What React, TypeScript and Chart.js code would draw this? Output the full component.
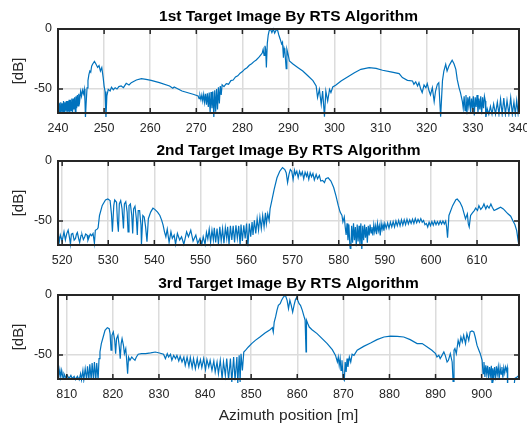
import React, { useEffect, useRef } from 'react';
import { Chart, registerables } from 'chart.js';

Chart.register(...registerables);

type Pt = [number, number];

// ---------- data (azimuth position [m], amplitude [dB]) ----------
const panelTitles = [
  '1st Target Image By RTS Algorithm',
  '2nd Target Image By RTS Algorithm',
  '3rd Target Image By RTS Algorithm',
];
const xLabel = 'Azimuth position [m]';
const yLabel = '[dB]';

const xRange1: Pt = [240, 340];
const xRange2: Pt = [519.1, 619.1];
const xRange3: Pt = [808.1, 908.1];

const xTicks1 = [240, 250, 260, 270, 280, 290, 300, 310, 320, 330, 340];
const xTicks2 = [520, 530, 540, 550, 560, 570, 580, 590, 600, 610];
const xTicks3 = [810, 820, 830, 840, 850, 860, 870, 880, 890, 900];
const yTicks = [-50, 0];
const yRange: Pt = [-70, 0];

const target1: Pt[] = [
  [240.0,-61],[240.15,-70],[240.3,-62],[240.45,-70],[240.6,-61],[240.75,-69],[240.9,-62],[241.05,-70],[241.2,-60],[241.35,-70],
  [241.5,-61],[241.65,-68],[241.8,-60],[241.95,-70],[242.1,-60],[242.25,-69],[242.4,-59],[242.55,-70],[242.7,-59],[242.85,-68],
  [243.0,-58],[243.15,-70],[243.3,-58],[243.45,-67],[243.6,-57],[243.75,-69],[243.9,-56],[244.05,-66],[244.2,-55],[244.35,-64],
  [244.5,-54],[244.7,-60],[244.9,-52],[245.1,-56],[245.3,-51],[245.5,-54],[245.7,-50],[245.85,-60],[245.95,-74],[246.1,-62],
  [246.3,-49],[246.5,-43],[246.7,-38],[246.9,-35],[247.1,-36],[247.3,-31],[247.5,-29.4],[247.9,-27],[248.2,-29],[248.6,-32],
  [248.9,-30.5],[249.2,-35],[249.5,-32.2],[249.8,-40.5],[250.0,-47.5],[250.2,-52],[250.4,-74],[250.6,-55.8],[250.9,-50.3],[251.3,-51.7],
  [251.6,-48.5],[252.0,-50.6],[252.4,-48.9],[252.8,-50],[253.2,-48],[253.7,-47.5],[254.2,-48.9],[254.8,-45.3],[255.4,-46.7],[255.9,-44.7],
  [257.0,-42.5],[258.1,-41.4],[259.1,-42],[260.2,-42.8],[262.0,-44.7],[264.2,-47.5],[264.9,-49.4],[265.2,-48.3],[266.9,-51.7],[269.3,-54.4],
  [270.4,-55.8],[270.6,-58],[270.8,-55.5],[271.0,-59],[271.2,-55],[271.4,-60],[271.6,-54.5],[271.8,-61],[272.0,-54],[272.2,-63],
  [272.4,-53.5],[272.6,-65],[272.8,-53],[273.0,-70],[273.2,-52.5],[273.4,-66],[273.6,-52],[273.8,-74],[274.0,-51],[274.2,-69],
  [274.4,-50],[274.6,-67],[274.8,-48.5],[275.0,-62],[275.2,-47.5],[275.4,-55],[275.6,-46.5],[276.0,-48],[276.5,-45.5],[277.0,-46],
  [277.5,-43],[278.0,-42.5],[278.5,-40],[279.0,-39],[279.5,-36.8],[280.0,-35.5],[280.5,-33.5],[281.0,-32.3],[281.5,-30.2],[282.0,-29],
  [282.5,-27.2],[283.0,-25.8],[283.6,-23.5],[284.0,-21.5],[284.3,-20],[284.5,-17],[284.7,-22],[284.9,-14],[285.05,-17],[285.2,-32],
  [285.4,-12],[285.6,-5],[285.8,-1.5],[286.1,0],[286.4,-3],[286.7,0],[287.0,-3.5],[287.3,-1],[287.6,-0.5],[287.9,-5],
  [288.2,-8.5],[288.5,-12.5],[288.7,-11],[288.9,-24],[289.05,-16],[289.2,-18],[289.5,-33],[289.65,-17],[289.9,-21],[290.2,-26.7],
  [290.9,-29],[292.0,-32],[293.1,-35],[294.2,-39],[295.3,-43],[296.0,-47.5],[296.3,-57],[296.7,-50.3],[297.1,-62.8],[297.4,-51.7],
  [297.8,-73],[298.1,-51.7],[298.5,-60],[298.9,-50.3],[299.2,-53],[299.6,-48.3],[300.3,-46.7],[301.4,-43.3],[302.8,-40],[304.3,-36.4],
  [305.7,-33.6],[307.5,-32.2],[309.0,-32.8],[310.4,-34.4],[312.2,-35.8],[314.0,-37.2],[314.7,-40.5],[315.8,-42.8],[316.9,-43.3],[317.2,-46],
  [317.6,-44],[318.0,-47.5],[318.3,-44.7],[318.7,-50.3],[319.0,-53],[319.4,-46.7],[319.8,-48.9],[320.1,-45.5],[320.5,-51.7],[320.8,-55],
  [321.2,-48.9],[321.6,-60.5],[321.9,-51.7],[322.3,-46],[322.6,-44.7],[323.0,-73],[323.4,-43],[323.7,-35],[324.1,-29.4],[324.4,-35],
  [324.8,-30.8],[325.2,-28],[325.5,-26],[325.9,-29],[326.3,-33.6],[326.6,-42],[327.0,-49],[327.3,-53],[327.7,-60],[327.9,-66],
  [328.1,-56],[328.3,-68],[328.5,-55],[328.7,-71],[328.9,-57],[329.1,-64],[329.3,-56],[329.5,-70],[329.7,-58],[329.9,-66],
  [330.1,-56],[330.3,-72],[330.5,-57],[330.7,-65],[330.9,-55],[331.1,-70],[331.3,-58],[331.5,-67],[331.7,-56],[331.9,-71],
  [332.1,-57],[332.3,-66],[332.5,-56],[332.7,-60],[332.8,-74],[333.1,-66.5],[333.45,-71],[333.8,-64.5],[334.15,-71],[334.5,-62.5],
  [334.9,-71],[335.3,-61],[335.65,-71],[336.0,-58.5],[336.35,-71],[336.7,-57.5],[337.05,-71],[337.4,-59.5],[337.8,-71],[338.2,-57.2],
  [338.55,-71],[338.9,-60.8],[339.2,-71],[339.5,-59.5],[339.8,-70],[340.0,-62],
];

const target2: Pt[] = [
  [519.1,-63],[519.3,-69.4],[519.6,-61.7],[520.0,-66.7],[520.4,-59],[520.7,-65.8],[521.0,-60.5],[521.3,-57.7],[521.6,-64],[521.8,-69.4],
  [522.0,-61],[522.3,-60.4],[522.6,-66],[522.9,-64.5],[523.1,-61],[523.3,-59.6],[523.6,-65],[523.8,-67.8],[524.1,-62],[524.3,-61.2],
  [524.6,-65.5],[524.9,-63.1],[525.1,-60.8],[525.4,-61.7],[525.6,-66],[525.8,-64],[526.1,-61],[526.4,-62.3],[526.7,-60.4],[527.0,-68.6],
  [527.2,-57.7],[527.6,-56.8],[527.8,-55.7],[528.1,-45.4],[528.7,-37],[529.4,-32.5],[529.9,-31.7],[530.4,-33],[530.7,-44.3],[530.9,-59],
  [531.2,-37.2],[531.4,-32.5],[531.8,-34.4],[532.0,-50.8],[532.2,-59],[532.4,-35.8],[532.7,-33],[533.0,-39.9],[533.3,-56.3],[533.5,-35.8],
  [533.8,-33.9],[534.1,-42.6],[534.3,-59],[534.5,-37.2],[534.8,-35.8],[535.1,-45.4],[535.3,-60.4],[535.5,-39.9],[535.8,-37.7],[536.1,-48.1],
  [536.3,-61.7],[536.5,-41.3],[536.8,-41.3],[537.1,-53.5],[537.2,-70],[537.5,-45.4],[537.8,-46.7],[538.1,-54.9],[538.4,-67.2],[538.7,-48.1],
  [539.2,-42.6],[539.7,-39.3],[540.1,-40.3],[540.7,-42.6],[541.2,-45.4],[541.6,-49.5],[541.9,-53.5],[542.2,-59],[542.5,-63.1],[542.8,-56.8],
  [543.2,-67.8],[543.6,-59],[543.9,-64.5],[544.3,-61.7],[544.6,-69.4],[545.0,-60.4],[545.5,-65.8],[545.9,-63.1],[546.4,-69.4],[547.0,-59],
  [547.4,-63.1],[547.9,-57.7],[548.4,-66.7],[549.0,-61.7],[549.4,-68.6],[549.9,-64.5],[550.3,-69.4],[550.6,-63.1],[551.0,-69.4],[551.3,-59.6],
  [551.6,-65],[551.9,-56.8],[552.2,-67.8],[552.5,-57.7],[552.8,-65.8],[553.0,-55.7],[553.3,-67.8],[553.6,-56.3],[553.9,-69.4],[554.2,-54.9],
  [554.5,-66.7],[554.8,-56.3],[555.1,-68.6],[555.4,-55.7],[555.7,-64.5],[555.9,-54.9],[556.2,-69.4],[556.5,-54.1],[556.8,-65.8],[557.1,-54.1],
  [557.4,-67.8],[557.7,-53.5],[558.0,-64.5],[558.3,-54.1],[558.6,-70],[558.8,-53],[559.1,-66.7],[559.4,-53.5],[559.7,-64.5],[560.0,-52.2],
  [560.3,-71],[560.6,-52.2],[560.9,-63.1],[561.2,-50.8],[561.4,-61.7],[561.7,-49.5],[562.0,-60.4],[562.3,-48.1],[562.6,-57.7],[562.9,-46.7],
  [563.2,-56.3],[563.5,-45.4],[563.8,-54.9],[564.1,-43.2],[564.3,-52.2],[564.6,-44],[564.9,-49.5],[565.1,-39.9],[565.4,-34.4],[566.0,-23.5],
  [566.6,-14],[567.2,-8.5],[567.8,-5.5],[568.3,-7.1],[568.6,-9.8],[568.9,-18],[569.2,-11.2],[569.5,-7.1],[569.8,-8.5],[570.1,-15.3],
  [570.4,-7.7],[570.6,-11.2],[570.9,-8.5],[571.2,-13.9],[571.5,-8.5],[571.8,-12],[572.1,-9],[572.4,-14.8],[572.7,-9.3],[573.0,-12.6],
  [573.2,-9.8],[573.5,-15.3],[573.8,-9.8],[574.1,-13.1],[574.4,-10.4],[574.7,-15.8],[575.1,-11.2],[575.4,-14.8],[575.8,-12],[576.1,-16.7],
  [576.5,-16.2],[576.9,-18],[577.2,-14.8],[577.7,-14],[578.3,-16.7],[578.9,-22.1],[579.4,-29],[579.9,-37.2],[580.3,-42.6],[580.7,-45.4],
  [580.9,-50.8],[581.2,-46.7],[581.4,-54.9],[581.6,-61.7],[581.8,-52],[582.0,-66],[582.2,-53],[582.4,-70],[582.6,-76],[582.8,-54],
  [583.0,-68],[583.2,-52],[583.4,-66],[583.6,-55],[583.8,-71],[584.0,-53],[584.2,-67],[584.4,-54],[584.6,-70],[584.8,-52],
  [585.0,-75],[585.2,-54],[585.4,-66],[585.6,-53],[585.8,-64],[586.0,-55],[586.2,-68],[586.4,-54],[586.6,-62],[586.8,-53],
  [587.0,-60],[587.2,-55],[587.4,-62],[587.6,-53],[587.8,-59],[588.0,-54],[588.2,-61],[588.4,-52],[588.6,-58],[588.8,-54],
  [589.0,-62],[589.2,-52],[589.4,-57],[589.6,-53],[589.8,-58],[590.0,-52],[590.3,-56],[590.6,-51.5],[590.9,-56],[591.2,-51],
  [591.5,-55],[591.8,-50.5],[592.1,-55],[592.4,-50],[592.7,-54],[593.0,-49.5],[593.3,-54],[593.6,-49],[593.9,-53.5],[594.2,-49],
  [594.5,-53],[594.8,-48.5],[595.1,-52.5],[595.4,-49],[595.7,-52],[596.0,-48.5],[596.3,-52],[596.6,-48],[596.9,-51.5],[597.2,-48.5],
  [597.5,-51],[597.8,-48],[598.1,-51],[598.4,-49.5],[598.7,-53],[599.0,-52],[599.3,-55],[599.6,-51],[599.9,-54],[600.2,-50.5],
  [600.5,-53.5],[600.8,-50],[601.1,-53],[601.4,-50.5],[601.7,-53],[602.0,-50],[602.3,-52.5],[602.6,-50],[602.9,-52.5],[603.2,-50],
  [603.4,-55],[603.6,-64],[603.9,-45.4],[604.7,-37.2],[605.4,-32.2],[605.7,-31.7],[606.3,-34.4],[606.8,-38.5],[607.2,-44],[607.5,-48.1],
  [607.9,-44],[608.1,-52.2],[608.3,-54.9],[608.6,-45.4],[609.0,-43.2],[609.4,-41.3],[609.7,-39.3],[610.1,-41.3],[610.4,-37.2],[610.8,-40.4],
  [611.2,-38.5],[611.5,-35.8],[611.9,-39.9],[612.2,-37.2],[612.6,-39.3],[613.0,-35.8],[613.3,-38.5],[613.7,-41.3],[614.4,-39.9],[615.1,-38.5],
  [615.7,-39.9],[616.2,-42],[616.7,-44],[617.3,-46],[617.8,-50],[618.2,-53],[618.6,-58],[618.9,-66],[619.1,-71],
];

const target3: Pt[] = [
  [808.1,-61.4],[808.2,-70.6],[808.5,-62.2],[808.7,-68.3],[808.9,-62.8],[809.2,-69.7],[809.4,-65.6],[809.8,-68.9],[810.1,-66.9],[810.5,-69.7],
  [810.9,-67],[811.2,-69.7],[811.6,-67.8],[811.9,-70.6],[812.3,-67.8],[812.7,-70.6],[813.0,-65.6],[813.2,-70.6],[813.5,-62.8],[813.7,-70.6],
  [814.0,-61.4],[814.3,-70.6],[814.5,-59.4],[814.8,-70.6],[815.0,-57.8],[815.3,-70.6],[815.5,-56.7],[815.8,-70.6],[816.0,-55.8],[816.3,-70.6],
  [816.5,-56.7],[816.8,-70.6],[817.0,-53],[817.2,-47.5],[817.5,-40.5],[817.9,-35],[818.3,-29.4],[818.8,-27.2],[819.2,-28],[819.4,-32.2],
  [819.6,-46],[819.8,-33.6],[820.1,-30.8],[820.4,-37.8],[820.6,-48.9],[820.8,-36.4],[821.1,-33.6],[821.4,-43.3],[821.6,-53],[821.8,-40.5],
  [822.0,-36.4],[822.3,-42],[822.5,-48.9],[822.8,-44.7],[823.0,-54.4],[823.2,-65.6],[823.4,-51.7],[823.7,-54.4],[824.1,-51.7],[824.4,-53],
  [824.8,-54.4],[825.1,-51.7],[825.5,-49.4],[826.2,-48.9],[827.1,-48.9],[828.2,-48.3],[829.2,-47.5],[830.1,-48.3],[831.0,-49.4],[831.4,-53],
  [831.8,-48.9],[832.1,-51.7],[832.5,-49.4],[832.8,-54.4],[833.2,-50.3],[833.6,-53],[833.9,-50.3],[834.3,-55],[834.6,-51.1],[835.0,-55.8],
  [835.4,-51.7],[835.7,-58.6],[836.1,-51.7],[836.5,-59.4],[836.8,-52.2],[837.2,-60.5],[837.5,-53],[837.9,-61.4],[838.3,-53],[838.6,-60],
  [839.0,-53.9],[839.3,-60.5],[839.7,-53],[840.1,-62.2],[840.4,-53.9],[840.8,-60],[841.1,-54.4],[841.5,-62.8],[841.9,-55],[842.2,-64.2],
  [842.6,-55.8],[842.9,-65.6],[843.3,-54.4],[843.7,-69.7],[844.0,-55.8],[844.4,-67],[844.7,-53],[845.1,-70.6],[845.5,-53],[845.8,-72.5],
  [846.2,-51.7],[846.5,-71.1],[846.9,-51.7],[847.1,-73.9],[847.4,-50.3],[847.6,-72.5],[847.8,-48.9],[848.1,-62.8],[848.4,-47.5],[848.8,-46],
  [849.4,-43.3],[850.1,-40.5],[850.9,-37.8],[851.9,-35],[853.0,-31.7],[854.1,-28.9],[854.6,-27.2],[854.8,-30.8],[855.0,-22.5],[855.3,-18.3],
  [855.6,-12.8],[855.9,-8.6],[856.3,-7.2],[856.6,-4.4],[857.0,-1.7],[857.4,0],[857.8,-4.4],[858.1,-11.4],[858.4,-4.4],[858.7,-8.6],
  [859.0,-14.2],[859.3,-8.6],[859.6,-4],[859.9,-1.7],[860.1,-4.4],[860.4,-7.2],[860.7,-8.6],[861.1,-12.8],[861.4,-17],[861.7,-21],
  [861.9,-47.5],[862.0,-21],[862.3,-24],[862.6,-26.7],[863.2,-28.9],[864.3,-32.2],[865.4,-36.4],[866.5,-40.5],[867.6,-45.5],[868.3,-50.3],
  [868.7,-55.8],[868.9,-51.7],[869.1,-58.6],[869.3,-53],[869.5,-62.8],[869.7,-54.4],[869.96,-69.7],[870.2,-71.1],[870.4,-55.8],[870.6,-64.2],
  [870.8,-53],[871.0,-60],[871.3,-51.7],[871.6,-55.8],[871.9,-49.4],[872.3,-50.3],[873.0,-46],[874.4,-42.8],[875.9,-40],[877.3,-37.2],
  [878.8,-35],[880.2,-34.2],[881.7,-34.4],[883.1,-35],[884.5,-37.2],[886.0,-40.5],[887.1,-40.5],[888.2,-43.3],[889.2,-46],[890.0,-48.9],
  [890.3,-51.7],[890.7,-50.3],[891.0,-53],[891.4,-50.3],[891.8,-47.5],[892.1,-50.3],[892.5,-55.8],[892.8,-54.4],[893.2,-48.9],[893.6,-55.8],
  [893.8,-72],[894.0,-46],[894.2,-44.7],[894.5,-48.9],[894.7,-43.3],[894.9,-37.8],[895.2,-42],[895.5,-35],[895.8,-39.2],[896.1,-33.6],
  [896.5,-40.5],[896.8,-32.2],[897.2,-37.8],[897.5,-30.8],[897.9,-30],[898.3,-30.8],[898.6,-35],[899.0,-42],[899.4,-46],[899.7,-48.9],
  [900.1,-54.4],[900.3,-65.6],[900.5,-55.8],[900.7,-68.3],[900.9,-58.6],[901.1,-66],[901.3,-59],[901.5,-70],[901.7,-60],[901.9,-67],
  [902.1,-59],[902.25,-75],[902.4,-61],[902.6,-68],[902.8,-60],[903.0,-71],[903.2,-59.5],[903.4,-66],[903.6,-60],[903.8,-70],
  [904.0,-60.5],[904.2,-66],[904.4,-60],[904.6,-69],[904.8,-60.5],[905.0,-65],[905.2,-60],[905.4,-63],[905.55,-60.5],[905.65,-85],
  [906.8,-85],[907.2,-69.5],[907.6,-68.5],[908.1,-67],
];

// ---------- styling ----------
const FONT = '"Liberation Sans", Arial, Helvetica, sans-serif';
const LINE_COLOR = '#0072BD';
const AXIS_COLOR = '#262626';
const GRID_COLOR = '#dcdcdc';
const CANVAS_W = 545;
const AREA_LEFT = 58;
const AREA_RIGHT = 519;

const framePlugin = {
  id: 'frame',
  afterDatasetsDraw(chart: any, _args: any, opts: any) {
    const { ctx, chartArea } = chart;
    const { left, right, top, bottom } = chartArea;
    const xs = chart.scales.x;
    const ys = chart.scales.y;
    ctx.save();
    ctx.strokeStyle = AXIS_COLOR;
    ctx.lineWidth = 1.5;
    ctx.beginPath();
    xs.ticks.forEach((t: any) => {
      const px = xs.getPixelForValue(t.value);
      ctx.moveTo(px, bottom);
      ctx.lineTo(px, bottom - 5);
      ctx.moveTo(px, top);
      ctx.lineTo(px, top + 5);
    });
    ys.ticks.forEach((t: any) => {
      const py = ys.getPixelForValue(t.value);
      ctx.moveTo(left, py);
      ctx.lineTo(left + 5, py);
      ctx.moveTo(right, py);
      ctx.lineTo(right - 5, py);
    });
    ctx.stroke();
    ctx.lineWidth = 2;
    ctx.strokeRect(left, top, right - left, bottom - top);

    ctx.fillStyle = '#000';
    ctx.font = `bold 15.5px ${FONT}`;
    ctx.textAlign = 'center';
    ctx.textBaseline = 'alphabetic';
    ctx.fillText(opts.title, (left + right) / 2, opts.titleY);

    ctx.fillStyle = AXIS_COLOR;
    ctx.font = `15px ${FONT}`;
    ctx.save();
    ctx.translate(18.5, (top + bottom) / 2);
    ctx.rotate(-Math.PI / 2);
    ctx.textBaseline = 'middle';
    ctx.fillText(yLabel, 0, 0);
    ctx.restore();

    if (opts.xTitle) {
      ctx.font = `15.5px ${FONT}`;
      ctx.textBaseline = 'alphabetic';
      ctx.fillText(opts.xTitle, (left + right) / 2, opts.xTitleY);
    }
    ctx.restore();
  },
};

type PanelSpec = {
  trace: Pt[];
  xr: Pt;
  ticks: number[];
  title: string;
  titleY: number;
  canvasTop: number;
  canvasH: number;
  areaTop: number;
  areaBottom: number;
  xTitle?: string;
  xTitleY?: number;
};

const panels: PanelSpec[] = [
  { trace: target1, xr: xRange1, ticks: xTicks1, title: panelTitles[0], titleY: 21, canvasTop: 0, canvasH: 135, areaTop: 29, areaBottom: 113 },
  { trace: target2, xr: xRange2, ticks: xTicks2, title: panelTitles[1], titleY: 19.5, canvasTop: 135, canvasH: 135, areaTop: 26, areaBottom: 110 },
  { trace: target3, xr: xRange3, ticks: xTicks3, title: panelTitles[2], titleY: 18, canvasTop: 270, canvasH: 155, areaTop: 25, areaBottom: 109, xTitle: xLabel, xTitleY: 149.5 },
];

function Panel({ spec }: { spec: PanelSpec }) {
  const ref = useRef<HTMLCanvasElement | null>(null);
  useEffect(() => {
    if (!ref.current) return;
    const tickFont = { family: FONT, size: 12.5 };
    const chart = new Chart(ref.current, {
      type: 'line',
      data: {
        datasets: [
          {
            data: spec.trace.map(([x, y]) => ({ x, y })),
            borderColor: LINE_COLOR,
            borderWidth: 1.2,
            pointRadius: 0,
            tension: 0,
            fill: false,
            clip: { left: 0, top: 2, right: 0, bottom: 4 } as any,
          },
        ],
      },
      options: {
        responsive: false,
        animation: false,
        events: [],
        layout: { padding: { top: spec.areaTop, left: 0, right: CANVAS_W - AREA_RIGHT, bottom: 0 } },
        scales: {
          x: {
            type: 'linear',
            min: spec.xr[0],
            max: spec.xr[1],
            afterBuildTicks: (s: any) => {
              s.ticks = spec.ticks.map((v) => ({ value: v }));
            },
            afterFit: (s: any) => {
              s.height = spec.canvasH - spec.areaBottom;
            },
            ticks: {
              font: tickFont,
              color: AXIS_COLOR,
              padding: 8,
              maxRotation: 0,
              minRotation: 0,
              autoSkip: false,
              callback: (v: any) => String(v),
            },
            grid: { color: GRID_COLOR, lineWidth: 1.5, drawTicks: false },
            border: { display: false },
          },
          y: {
            type: 'linear',
            min: yRange[0],
            max: yRange[1],
            afterBuildTicks: (s: any) => {
              s.ticks = yTicks.map((v) => ({ value: v }));
            },
            afterFit: (s: any) => {
              s.width = AREA_LEFT;
            },
            ticks: {
              font: tickFont,
              color: AXIS_COLOR,
              padding: 6,
              callback: (v: any) => String(v),
            },
            grid: { color: GRID_COLOR, lineWidth: 1.5, drawTicks: false },
            border: { display: false },
          },
        },
        plugins: {
          legend: { display: false },
          tooltip: { enabled: false },
          title: { display: false },
          frame: { title: spec.title, titleY: spec.titleY, xTitle: spec.xTitle, xTitleY: spec.xTitleY },
        } as any,
      },
      plugins: [framePlugin],
    });
    return () => chart.destroy();
  }, [spec]);
  return (
    <canvas
      ref={ref}
      width={CANVAS_W}
      height={spec.canvasH}
      style={{ position: 'absolute', left: 0, top: spec.canvasTop, width: CANVAS_W, height: spec.canvasH }}
    />
  );
}

export default function App() {
  return (
    <div
      style={{
        position: 'absolute',
        left: 0,
        top: 0,
        width: 527,
        height: 425,
        overflow: 'hidden',
        background: '#ffffff',
      }}
    >
      {panels.map((p, i) => (
        <Panel key={i} spec={p} />
      ))}
    </div>
  );
}
